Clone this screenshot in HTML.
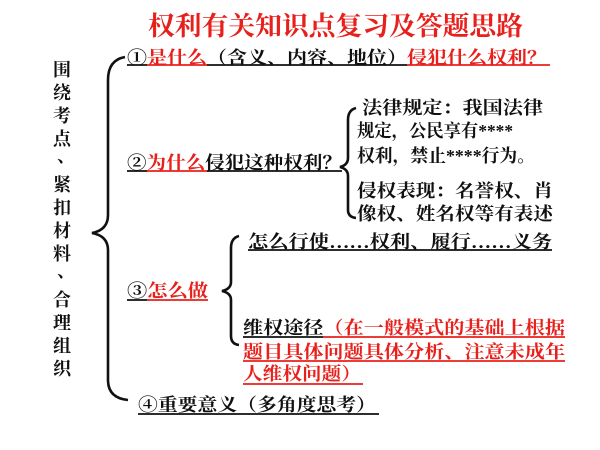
<!DOCTYPE html>
<html><head><meta charset="utf-8"><style>
html,body{margin:0;padding:0;background:#fff;width:600px;height:450px;overflow:hidden}
svg{display:block}
text{font-family:"Liberation Serif","Noto Serif CJK SC","Noto Sans CJK SC",serif;font-size:18px;font-weight:bold}
.r{fill:#e8201c}.k{fill:#111}
</style></head><body>
<svg width="600" height="450" viewBox="0 0 600 450">
<text x="148" y="35" textLength="375" lengthAdjust="spacingAndGlyphs" style="font-size:26px" class="r">权利有关知识点复习及答题思路</text>

<!-- left vertical -->
<g class="k" style="font-size:21px" text-anchor="middle">
<text x="62" y="76">围</text><text x="62" y="99">绕</text><text x="62" y="122">考</text><text x="62" y="145">点</text><text x="66" y="162">、</text>
<text x="62" y="191">紧</text><text x="62" y="214">扣</text><text x="62" y="237">材</text><text x="62" y="260">料</text><text x="66" y="277">、</text>
<text x="62" y="306">合</text><text x="62" y="329">理</text><text x="62" y="352">组</text><text x="62" y="375">织</text>
</g>

<g fill="none" stroke="#111" stroke-width="2.6">
<path d="M125 57 Q108 60 108 80 L108 215 Q108 230 92 233 Q108 236 108 250 L108 380 Q108 398 128 400"/>
<path d="M356 108 Q348 110 348 120 L348 158 Q348 165 340 167 Q348 169 348 176 L348 210 Q348 217 356 218"/>
<path d="M239 236 Q231 238 231 248 L231 282 Q231 289 222 291 Q231 293 231 300 L231 336 Q231 344 239 345"/>
</g>

<!-- line1 -->
<text x="127" y="64" textLength="420" lengthAdjust="spacingAndGlyphs"><tspan class="k">①</tspan><tspan class="r">是什么</tspan><tspan class="k">（含义、内容、地位）</tspan><tspan class="r">侵犯什么权利？</tspan></text>
<line x1="127" y1="65" x2="147" y2="65" stroke="#111" stroke-width="1.8"/>
<line x1="147" y1="65" x2="207" y2="65" stroke="#e8201c" stroke-width="1.8"/>
<line x1="207" y1="65" x2="407" y2="65" stroke="#111" stroke-width="1.8"/>
<line x1="407" y1="65" x2="550" y2="65" stroke="#e8201c" stroke-width="1.8"/>

<!-- line2 -->
<text x="127" y="169" textLength="215" lengthAdjust="spacingAndGlyphs"><tspan class="k">②</tspan><tspan class="r">为什么</tspan><tspan class="k">侵犯这种权利？</tspan></text>
<line x1="127" y1="171" x2="147" y2="171" stroke="#111" stroke-width="1.8"/>
<line x1="147" y1="171" x2="207" y2="171" stroke="#e8201c" stroke-width="1.8"/>
<line x1="207" y1="171" x2="342" y2="171" stroke="#111" stroke-width="1.8"/>

<g class="k">
<text x="362" y="114" textLength="181" lengthAdjust="spacingAndGlyphs">法律规定：我国法律</text>
<text x="357" y="137" textLength="156" lengthAdjust="spacingAndGlyphs">规定，公民享有****</text>
<text x="357" y="162" textLength="178" lengthAdjust="spacingAndGlyphs">权利，禁止****行为。</text>
<text x="357" y="197" textLength="196" lengthAdjust="spacingAndGlyphs">侵权表现：名誉权、肖</text>
<text x="357" y="220" textLength="196" lengthAdjust="spacingAndGlyphs">像权、姓名权等有表述</text>
</g>

<!-- line3 -->
<text x="127" y="297" textLength="81" lengthAdjust="spacingAndGlyphs"><tspan class="k">③</tspan><tspan class="r">怎么做</tspan></text>
<line x1="127" y1="300" x2="147" y2="300" stroke="#111" stroke-width="1.8"/>
<line x1="147" y1="300" x2="208" y2="300" stroke="#e8201c" stroke-width="1.8"/>

<text x="248" y="248" textLength="304" lengthAdjust="spacingAndGlyphs" class="k">怎么行使……权利、履行……义务</text>
<line x1="248" y1="250" x2="552" y2="250" stroke="#111" stroke-width="1.8"/>

<text x="243" y="334" textLength="322" lengthAdjust="spacingAndGlyphs"><tspan class="k">维权途径</tspan><tspan class="r">（在一般模式的基础上根据</tspan></text>
<line x1="243" y1="337" x2="323" y2="337" stroke="#111" stroke-width="1.8"/>
<line x1="323" y1="337" x2="565" y2="337" stroke="#e8201c" stroke-width="1.8"/>
<text x="243" y="358" textLength="322" lengthAdjust="spacingAndGlyphs" class="r">题目具体问题具体分析、注意未成年</text>
<line x1="243" y1="361" x2="565" y2="361" stroke="#e8201c" stroke-width="1.8"/>
<text x="243" y="380" textLength="118" lengthAdjust="spacingAndGlyphs" class="r">人维权问题）</text>
<line x1="243" y1="384" x2="363" y2="384" stroke="#e8201c" stroke-width="1.8"/>

<!-- line4 -->
<text x="138" y="411" textLength="238" lengthAdjust="spacingAndGlyphs" class="k">④重要意义（多角度思考）</text>
<line x1="138" y1="414" x2="379" y2="414" stroke="#111" stroke-width="1.8"/>
</svg>
</body></html>
